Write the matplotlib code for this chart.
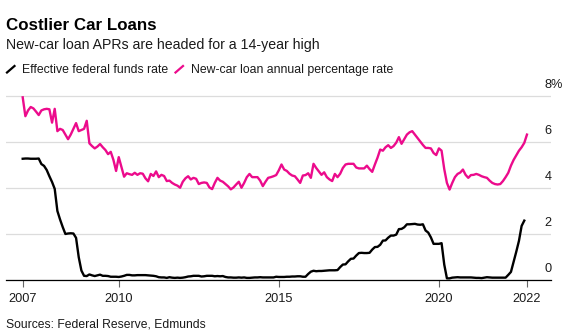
import numpy as np
import matplotlib.pyplot as plt
from matplotlib.lines import Line2D

plt.rcParams['font.family'] = ['Liberation Sans', 'DejaVu Sans']

# monthly series, Jan 2007 onward
start = '2007-01'

# effective federal funds rate, %
fed_funds = [
    5.25, 5.26, 5.26, 5.25, 5.25, 5.25, 5.26, 5.02, 4.94, 4.76, 4.49, 4.24,
    3.94, 2.98, 2.61, 2.28, 1.98, 2.00, 2.01, 2.00, 1.81, 0.97, 0.39, 0.16,
    0.15, 0.22, 0.18, 0.15, 0.18, 0.21, 0.16, 0.16, 0.15, 0.12, 0.12, 0.12,
    0.11, 0.13, 0.16, 0.20, 0.20, 0.18, 0.18, 0.19, 0.19, 0.19, 0.19, 0.18,
    0.17, 0.16, 0.14, 0.10, 0.09, 0.09, 0.07, 0.10, 0.08, 0.07, 0.08, 0.07,
    0.08, 0.10, 0.13, 0.14, 0.16, 0.16, 0.16, 0.13, 0.14, 0.16, 0.16, 0.16,
    0.14, 0.15, 0.14, 0.15, 0.11, 0.09, 0.09, 0.08, 0.08, 0.09, 0.08, 0.09,
    0.07, 0.07, 0.08, 0.09, 0.09, 0.10, 0.09, 0.09, 0.09, 0.09, 0.09, 0.12,
    0.11, 0.11, 0.11, 0.12, 0.12, 0.13, 0.13, 0.14, 0.14, 0.12, 0.12, 0.24,
    0.34, 0.38, 0.36, 0.37, 0.37, 0.38, 0.39, 0.40, 0.40, 0.40, 0.41, 0.54,
    0.65, 0.66, 0.79, 0.90, 0.91, 1.04, 1.15, 1.16, 1.15, 1.15, 1.16, 1.30,
    1.41, 1.42, 1.51, 1.69, 1.70, 1.82, 1.91, 1.91, 1.95, 2.19, 2.20, 2.27,
    2.40, 2.40, 2.41, 2.42, 2.39, 2.38, 2.40, 2.13, 2.04, 1.83, 1.55, 1.55,
    1.55, 1.58, 0.65, 0.05, 0.05, 0.08, 0.09, 0.10, 0.09, 0.09, 0.09, 0.09,
    0.09, 0.08, 0.07, 0.07, 0.06, 0.08, 0.10, 0.09, 0.08, 0.08, 0.08, 0.08,
    0.08, 0.08, 0.20, 0.33, 0.77, 1.21, 1.68, 2.33, 2.56,
]

# new-car loan APR, %
new_car_apr = [
    7.92, 7.10, 7.35, 7.50, 7.44, 7.30, 7.15, 7.35, 7.40, 7.42, 7.40, 6.82,
    7.42, 6.45, 6.55, 6.50, 6.30, 6.10, 6.30, 6.55, 6.80, 6.45, 6.50, 6.55,
    6.90, 5.92, 5.80, 5.70, 5.78, 5.89, 5.75, 5.63, 5.45, 5.55, 5.20, 4.72,
    5.32, 4.90, 4.47, 4.62, 4.58, 4.55, 4.64, 4.55, 4.62, 4.60, 4.40, 4.27,
    4.59, 4.50, 4.70, 4.45, 4.55, 4.50, 4.28, 4.30, 4.20, 4.13, 4.08, 3.99,
    4.25, 4.40, 4.49, 4.35, 4.42, 4.38, 4.15, 4.20, 4.22, 4.20, 4.00, 3.93,
    4.20, 4.42, 4.30, 4.25, 4.15, 4.05, 3.92, 4.00, 4.13, 4.25, 3.99, 4.20,
    4.45, 4.59, 4.45, 4.45, 4.45, 4.30, 4.06, 4.25, 4.42, 4.45, 4.49, 4.54,
    4.75, 5.00, 4.78, 4.72, 4.60, 4.52, 4.49, 4.35, 4.20, 4.52, 4.54, 4.62,
    4.42, 5.03, 4.85, 4.70, 4.55, 4.66, 4.45, 4.35, 4.28, 4.59, 4.45, 4.60,
    4.85, 5.00, 5.03, 5.03, 5.03, 4.87, 4.83, 4.83, 4.83, 4.95, 4.80, 4.68,
    5.00, 5.30, 5.65, 5.60, 5.75, 5.84, 5.72, 5.80, 5.95, 6.19, 5.90, 6.10,
    6.30, 6.40, 6.45, 6.30, 6.15, 6.00, 5.85, 5.72, 5.72, 5.70, 5.50, 5.41,
    5.70, 5.60, 4.80, 4.20, 3.91, 4.20, 4.45, 4.59, 4.65, 4.78, 4.55, 4.42,
    4.54, 4.55, 4.59, 4.55, 4.49, 4.45, 4.42, 4.30, 4.20, 4.15, 4.13, 4.15,
    4.28, 4.45, 4.64, 4.95, 5.20, 5.40, 5.60, 5.75, 5.94, 6.30,
]

tick_months = [0, 36, 96, 156, 189]
tick_labels = ['2007', '2010', '2015', '2020', '2022']
y_ticks = [0, 2, 4, 6, 8]

PINK = '#ec0b8c'
W, H = 568, 334

fig = plt.figure(figsize=(W / 100, H / 100), dpi=100)
ax = fig.add_axes([6 / W, 1 - 279.5 / H, 544.7 / W, (279.5 - 88.6) / H])


def ftext(x, y, s, **kw):
    # place text using pixel coords measured from the top-left corner
    fig.text(x / W, 1 - y / H, s, va='baseline', ha='left', **kw)


ax.plot(np.arange(len(new_car_apr)), new_car_apr, color=PINK, lw=1.7,
        solid_joinstyle='round', zorder=3)
ax.plot(np.arange(len(fed_funds)), fed_funds, color='black', lw=1.7,
        solid_joinstyle='round', zorder=4)

ax.set_xlim(-6.26, 197.9)
ax.set_ylim(0, 8.3)

ax.set_yticks(y_ticks)
ax.yaxis.grid(True, color='#dcdcdc', lw=0.9)
ax.tick_params(axis='y', left=False, labelleft=False)
ax.set_axisbelow(True)

for side in ['top', 'right', 'left']:
    ax.spines[side].set_visible(False)
ax.spines['bottom'].set_color('black')
ax.spines['bottom'].set_linewidth(0.9)
ax.spines['bottom'].set_zorder(5)

ax.set_xticks(tick_months)
ax.set_xticklabels(tick_labels)
ax.tick_params(axis='x', direction='out', length=5, width=0.8, color='#666666',
               pad=5, labelsize=9.2, labelcolor='#1a1a1a')

# right-side value labels sit just above their gridlines
for v in y_ticks:
    lab = f'{v}%' if v == y_ticks[-1] else str(v)
    ax.annotate(lab, xy=(0.9886, v), xycoords=('axes fraction', 'data'),
                xytext=(0, 7.5), textcoords='offset pixels',
                ha='left', va='baseline', fontsize=9.2, color='#1a1a1a',
                annotation_clip=False)

ftext(6, 29.5, 'Costlier Car Loans', fontsize=12.2, fontweight='bold', color='black')
ftext(6, 49.5, 'New-car loan APRs are headed for a 14-year high', fontsize=10.2, color='#1a1a1a')

# legend with slash markers
fig.add_artist(Line2D([7 / W, 14.5 / W], [1 - 72.5 / H, 1 - 66 / H], color='black', lw=1.6))
ftext(21.5, 73, 'Effective federal funds rate', fontsize=8.8, color='#1a1a1a')
fig.add_artist(Line2D([175.5 / W, 183 / W], [1 - 72.5 / H, 1 - 66 / H], color=PINK, lw=1.6))
ftext(191, 73, 'New-car loan annual percentage rate', fontsize=8.8, color='#1a1a1a')

ftext(6, 327.5, 'Sources: Federal Reserve, Edmunds', fontsize=8.7, color='#1a1a1a')

plt.savefig('out.png', dpi=100)
